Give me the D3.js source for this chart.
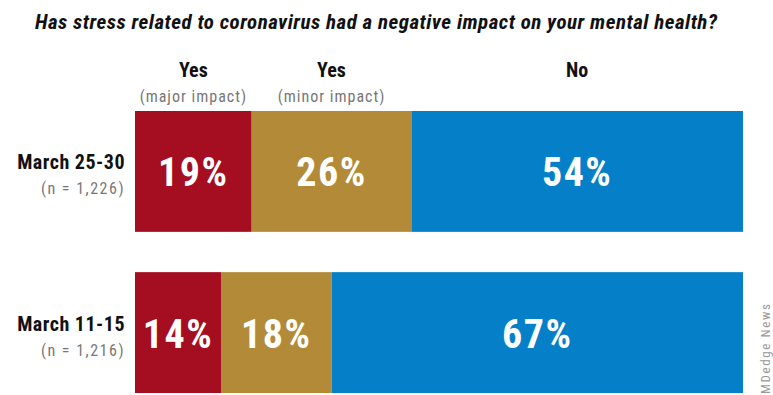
<!DOCTYPE html>
<html>
<head>
<meta charset="utf-8">
<script src="https://cdn.jsdelivr.net/npm/d3@7"></script>
<style>
  body { margin: 0; background: #fff; }
  text { font-family: "Liberation Sans Narrow", "Roboto Condensed", "Liberation Sans", sans-serif; }
</style>
</head>
<body>
<script>
// data
var periods = ["March 25-30", "March 11-15"];
var sampleSizes = ["(n = 1,226)", "(n = 1,216)"];
var seriesNames = ["Yes", "Yes", "No"];
var seriesNotes = ["(major impact)", "(minor impact)", ""];
var majorImpact = [19, 14];
var minorImpact = [26, 18];
var noImpact = [54, 67];
var colors = ["#a50d21", "#b38b38", "#0580c8"];

var width = 773, height = 395;
var margin = {top: 111, right: 30, bottom: 2, left: 135};

var svg = d3.select("body").append("svg")
    .attr("width", width)
    .attr("height", height);

// title
svg.append("text")
    .attr("x", 376)
    .attr("y", 29)
    .attr("text-anchor", "middle")
    .attr("font-size", 21)
    .attr("font-weight", "bold")
    .attr("font-style", "italic")
    .attr("fill", "#111")
    .attr("textLength", 682)
    .attr("lengthAdjust", "spacing")
    .text("Has stress related to coronavirus had a negative impact on your mental health?");

var rows = periods.map(function(p, i) {
    var vals = [majorImpact[i], minorImpact[i], noImpact[i]];
    var x0 = 0;
    return {
        period: p,
        n: sampleSizes[i],
        segs: vals.map(function(v, k) {
            var s = {k: k, v: v, x0: x0, x1: x0 + v};
            x0 += v;
            return s;
        })
    };
});

var total = d3.max(rows, function(r) { return r.segs[2].x1; });

var xScale = d3.scaleLinear()
    .domain([0, total])
    .range([margin.left, width - margin.right]);

var yScale = d3.scaleBand()
    .domain(periods)
    .range([margin.top, height - margin.bottom])
    .paddingInner(0.25);

// column headers over the first row's segments
var firstRow = rows[0].segs;
var header = svg.selectAll(".head")
    .data(firstRow)
    .enter().append("g")
    .attr("class", "head")
    .attr("transform", function(d) {
        return "translate(" + xScale((d.x0 + d.x1) / 2) + ",0)";
    });

header.append("text")
    .attr("y", 77)
    .attr("text-anchor", "middle")
    .attr("font-size", 20)
    .attr("font-weight", "bold")
    .attr("fill", "#111")
    .text(function(d) { return seriesNames[d.k]; });

header.append("text")
    .attr("y", 102)
    .attr("text-anchor", "middle")
    .attr("font-size", 16)
    .attr("letter-spacing", 1)
    .attr("fill", "#777")
    .text(function(d) { return seriesNotes[d.k]; });

// bars
var row = svg.selectAll(".row")
    .data(rows)
    .enter().append("g")
    .attr("class", "row")
    .attr("transform", function(d) { return "translate(0," + yScale(d.period) + ")"; });

row.selectAll("rect")
    .data(function(d) { return d.segs; })
    .enter().append("rect")
    .attr("x", function(d) { return xScale(d.x0); })
    .attr("width", function(d) { return xScale(d.x1) - xScale(d.x0); })
    .attr("height", yScale.bandwidth())
    .attr("fill", function(d) { return colors[d.k]; });

row.selectAll(".val")
    .data(function(d) { return d.segs; })
    .enter().append("text")
    .attr("class", "val")
    .attr("x", function(d) { return xScale((d.x0 + d.x1) / 2); })
    .attr("y", yScale.bandwidth() / 2 + 15)
    .attr("text-anchor", "middle")
    .attr("font-size", 40)
    .attr("font-weight", "bold")
    .attr("letter-spacing", 1.5)
    .attr("fill", "#fff")
    .text(function(d) { return d.v + "%"; });

// row labels
row.append("text")
    .attr("x", 125)
    .attr("y", yScale.bandwidth() / 2 - 2)
    .attr("text-anchor", "end")
    .attr("font-size", 20)
    .attr("font-weight", "bold")
    .attr("letter-spacing", 0.5)
    .attr("fill", "#111")
    .text(function(d) { return d.period; });

row.append("text")
    .attr("x", 125)
    .attr("y", yScale.bandwidth() / 2 + 23)
    .attr("text-anchor", "end")
    .attr("font-size", 16)
    .attr("letter-spacing", 1.5)
    .attr("fill", "#777")
    .text(function(d) { return d.n; });

// credit
svg.append("text")
    .attr("transform", "translate(770,394) rotate(-90)")
    .attr("font-family", "Liberation Sans, sans-serif")
    .attr("font-size", 13)
    .attr("fill", "#999")
    .attr("textLength", 90)
    .text("MDedge News");
</script>
</body>
</html>
